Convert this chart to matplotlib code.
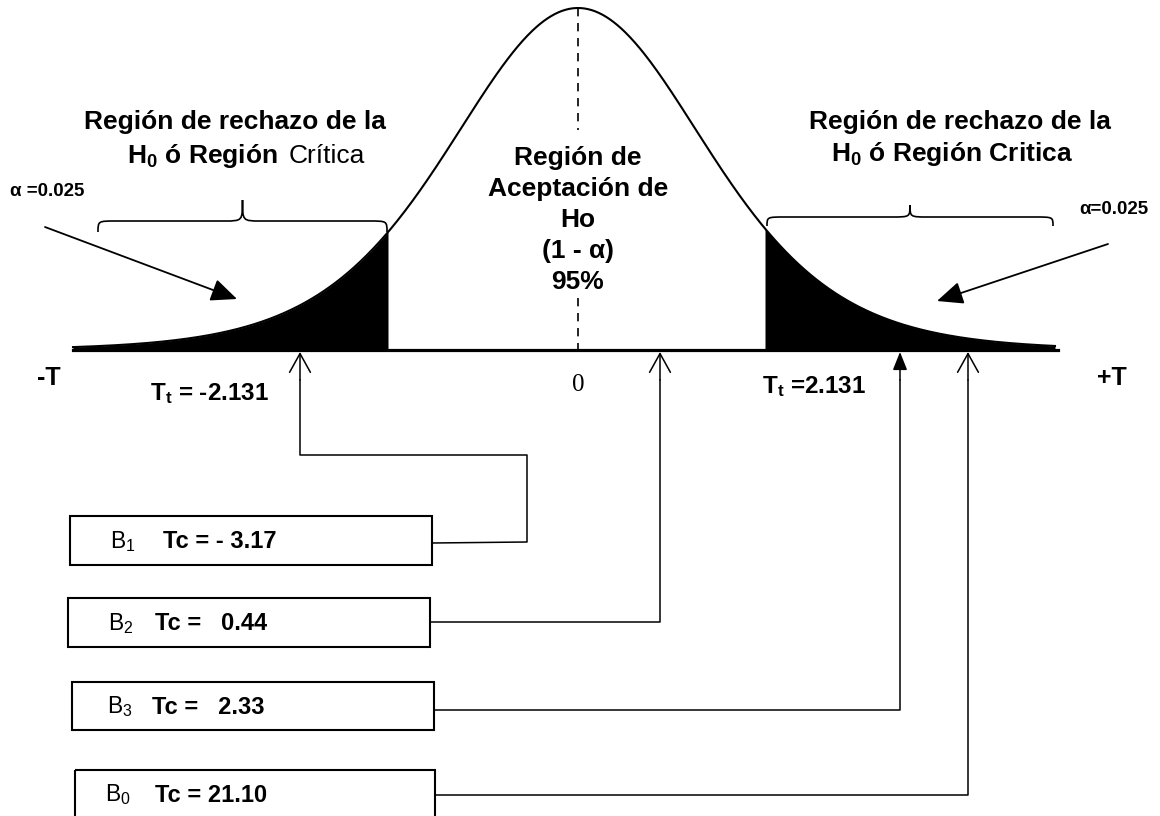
import numpy as np
import matplotlib
matplotlib.use('Agg')
from matplotlib import pyplot as plt
from matplotlib.path import Path
from matplotlib.patches import PathPatch, Rectangle

plt.rcParams['font.family'] = ['Liberation Sans', 'DejaVu Sans']
plt.rcParams['mathtext.fontset'] = 'custom'
plt.rcParams['mathtext.rm'] = 'Liberation Sans'
plt.rcParams['mathtext.bf'] = 'Liberation Sans:bold'
plt.rcParams['mathtext.it'] = 'Liberation Sans:italic'
plt.rcParams['mathtext.sf'] = 'Liberation Sans'

# data
alpha = 0.025
t_crit = 2.131
conf = '95%'
coef_names = ['1', '2', '3', '0']
tc_text = ['- 3.17', '  0.44', '  2.33', '21.10']

# layout (the sketch is schematic, pixel units)
x0, base_y, peak = 578, 350, 342
scale, nu = 130, 8
crit_x = [388, 765]
arrow_x = [300, 660, 900, 968]
boxes = [(70, 516, 362, 49), (68, 598, 362, 49), (72, 682, 362, 48), (75, 770, 360, 48)]
conn_y = [543, 622, 710, 795]
b_x = [110, 108, 107, 105]
tc_x = [163, 155, 152, 155]

fig = plt.figure(figsize=(11.6, 8.16), dpi=100)
ax = fig.add_axes([0, 0, 1, 1])
ax.set_xlim(0, 1160)
ax.set_ylim(816, 0)
ax.axis('off')


def curve(x):
    u = (x - x0) / scale
    return base_y - peak * (1 + u * u / nu) ** (-(nu + 1) / 2)


xs = np.linspace(73, 1055, 800)
ys = curve(xs)
ax.plot(xs, ys, color='k', lw=1.5)

m = xs <= crit_x[0]
ax.fill_between(np.append(xs[m], crit_x[0]), np.append(ys[m], curve(crit_x[0])), base_y, color='k', lw=0)
m = xs >= crit_x[1]
ax.fill_between(np.insert(xs[m], 0, crit_x[1]), np.insert(ys[m], 0, curve(crit_x[1])), base_y, color='k', lw=0)

ax.plot([73, 1058], [base_y, base_y], color='k', lw=2.3)
ax.plot([x0, x0], [8, 130], color='k', lw=1.2, ls=(0, (5, 4)))
ax.plot([x0, x0], [298, base_y], color='k', lw=1.2, ls=(0, (5, 4)))


def brace(xa, xb, ye, yf, yt):
    xm = (xa + xb) / 2
    r = 18
    verts = [(xa, ye), (xa, yf), (xa, yf), (xa + r, yf),
             (xm - r, yf), (xm, yf), (xm, yf), (xm, yt),
             (xm, yf), (xm, yf), (xm + r, yf),
             (xb - r, yf), (xb, yf), (xb, yf), (xb, ye)]
    codes = [Path.MOVETO, Path.CURVE4, Path.CURVE4, Path.CURVE4,
             Path.LINETO, Path.CURVE4, Path.CURVE4, Path.CURVE4,
             Path.CURVE4, Path.CURVE4, Path.CURVE4,
             Path.LINETO, Path.CURVE4, Path.CURVE4, Path.CURVE4]
    ax.add_patch(PathPatch(Path(verts, codes), fill=False, lw=1.2, color='k'))


brace(98, 387, 232, 221, 200)
brace(767, 1053, 226, 217, 205)

# titles
bold = dict(fontweight='bold', fontsize=19, ha='center', va='center')
ax.text(235, 122, 'Región de rechazo de la', **bold)
ax.text(278, 156, r'$\mathbf{H_0}$ ó Región', fontweight='bold', fontsize=19, ha='right', va='center')
ax.text(289, 156, 'Crítica', fontsize=19, ha='left', va='center')
ax.text(960, 122, 'Región de rechazo de la', **bold)
ax.text(952, 154, r'$\mathbf{H_0}$ ó Región Critica', **bold)

center_lines = ['Región de', 'Aceptación de', 'Ho', '(1 - α)', conf]
for i, s in enumerate(center_lines):
    ax.text(x0, 158 + 31 * i, s, **bold)

ax.text(10, 191, 'α =%.3f' % alpha, fontweight='bold', fontsize=13.5, ha='left', va='center')
ax.text(1148, 209, 'α=%.3f' % alpha, fontweight='bold', fontsize=13.5, ha='right', va='center')

big = '-|>,head_length=0.8,head_width=0.35'
ax.annotate('', xy=(237, 299), xytext=(45, 227),
            arrowprops=dict(arrowstyle=big, color='k', lw=1.3, shrinkA=0, shrinkB=0, mutation_scale=20))
ax.annotate('', xy=(937, 301), xytext=(1108, 244),
            arrowprops=dict(arrowstyle=big, color='k', lw=1.3, shrinkA=0, shrinkB=0, mutation_scale=20))

ax.text(37, 378, '-T', fontweight='bold', fontsize=18, ha='left', va='center')
ax.text(1127, 378, '+T', fontweight='bold', fontsize=18, ha='right', va='center')
ax.text(150, 394, r'$\mathbf{T_t}$ = -%.3f' % t_crit, fontweight='bold', fontsize=17.5, ha='left', va='center')
ax.text(762, 387, r'$\mathbf{T_t}$ =%.3f' % t_crit, fontweight='bold', fontsize=17.5, ha='left', va='center')
ax.text(x0, 385, '0', family='Liberation Serif', fontsize=18, ha='center', va='center')

# boxes and connectors
for i in range(4):
    bx, by, bw, bh = boxes[i]
    ax.add_patch(Rectangle((bx, by), bw, bh, fill=False, lw=1.5, ec='k'))
    yc = by + bh / 2 + 1
    ax.text(b_x[i], yc, r'$\mathrm{B_%s}$' % coef_names[i], fontsize=16.5, ha='left', va='center')
    ax.text(tc_x[i], yc, 'Tc = ' + tc_text[i], fontweight='bold', fontsize=17, ha='left', va='center')
    xr = bx + bw
    if i == 0:
        ax.plot([xr, 527, 527, arrow_x[i], arrow_x[i]], [conn_y[i], conn_y[i] - 1, 455, 455, 380], color='k', lw=1.1)
    else:
        ax.plot([xr, arrow_x[i], arrow_x[i]], [conn_y[i], conn_y[i], 380], color='k', lw=1.1)
    if i == 2:
        st = '-|>,head_length=0.55,head_width=0.22'
        ms = 20
    else:
        st = '->,head_length=0.45,head_width=0.25'
        ms = 30
    ax.annotate('', xy=(arrow_x[i], base_y + 2), xytext=(arrow_x[i], 380),
                arrowprops=dict(arrowstyle=st, color='k', lw=1.1, shrinkA=0, shrinkB=0, mutation_scale=ms))

fig.savefig('out.png', dpi=100, facecolor='white')
